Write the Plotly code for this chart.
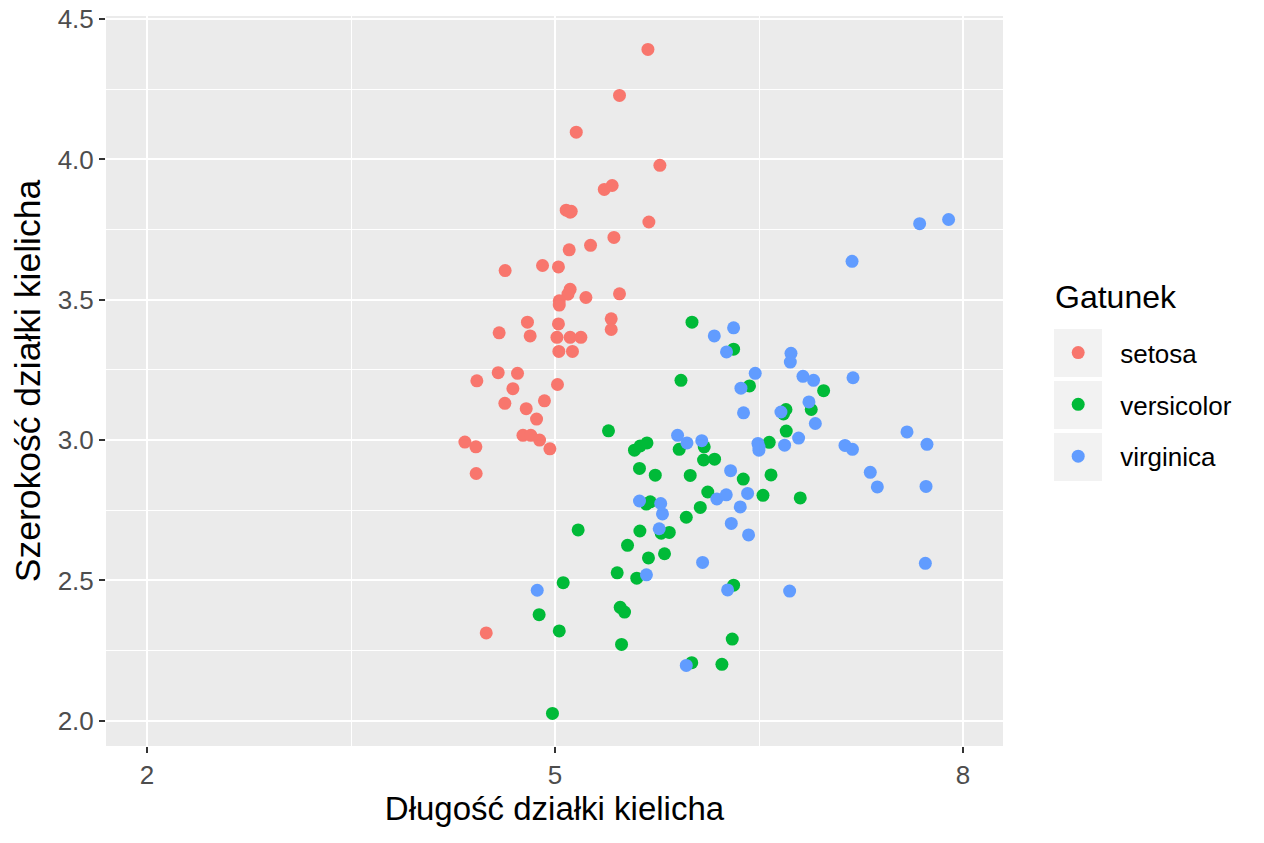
import plotly.graph_objects as go

# dane (punkty z jitterem)
setosa_x = [5.683, 5.474, 5.156, 5.771, 5.362, 5.420, 5.082, 5.111, 5.690, 5.433,
            5.261, 5.104, 4.908, 5.025, 4.633, 5.111, 5.095, 5.227, 5.474, 5.031,
            5.031, 4.797, 5.025, 5.413, 5.413, 4.589, 4.817, 5.014, 5.111, 5.190,
            5.028, 5.128, 4.582, 4.724, 4.425, 5.018, 4.690, 4.631, 4.922, 4.788,
            4.864, 4.764, 4.822, 4.886, 4.337, 4.418, 4.962, 4.420, 4.494, 5.119]
setosa_y = [4.392, 4.228, 4.097, 3.979, 3.893, 3.907, 3.819, 3.812, 3.777, 3.722,
            3.694, 3.678, 3.622, 3.617, 3.604, 3.537, 3.520, 3.508, 3.521, 3.496,
            3.481, 3.420, 3.414, 3.432, 3.394, 3.382, 3.371, 3.366, 3.366, 3.366,
            3.316, 3.316, 3.240, 3.238, 3.211, 3.198, 3.183, 3.131, 3.140, 3.112,
            3.075, 3.017, 3.017, 3.000, 2.993, 2.976, 2.969, 2.881, 2.313, 3.815]

versicolor_x = [6.007, 6.313, 5.926, 6.430, 6.975, 6.884, 6.698, 6.680, 6.700, 6.575,
                5.393, 5.584, 5.626, 5.676, 5.913, 6.097, 6.092, 6.173, 5.621, 5.737,
                5.994, 6.384, 6.588, 6.123, 6.529, 6.803, 5.700, 5.671, 6.068, 5.965,
                5.170, 5.624, 5.781, 5.840, 5.533, 5.687, 5.805, 5.457, 5.601, 5.060,
                6.313, 4.883, 5.479, 5.511, 5.031, 6.303, 5.489, 6.005, 6.227, 4.981]
versicolor_y = [3.420, 3.324, 3.213, 3.193, 3.176, 3.109, 3.109, 3.093, 3.032, 2.992,
                3.033, 2.964, 2.979, 2.990, 2.967, 2.976, 2.929, 2.932, 2.899, 2.875,
                2.874, 2.861, 2.876, 2.815, 2.803, 2.794, 2.780, 2.772, 2.760, 2.725,
                2.680, 2.676, 2.668, 2.671, 2.625, 2.580, 2.595, 2.527, 2.508, 2.492,
                2.483, 2.378, 2.404, 2.387, 2.320, 2.291, 2.272, 2.207, 2.201, 2.026]

virginica_x = [7.681, 7.894, 7.184, 6.171, 6.313, 6.261, 6.735, 6.730, 6.472, 6.367,
               6.823, 6.901, 7.191, 6.386, 6.867, 6.661, 6.914, 6.791, 6.688, 6.492,
               6.499, 7.132, 7.187, 5.901, 5.970, 6.079, 6.291, 6.190, 6.259, 6.416,
               7.588, 7.735, 7.318, 7.370, 7.728, 7.723, 5.621, 5.777, 5.790, 5.766,
               5.672, 6.362, 6.296, 6.423, 6.085, 6.269, 6.725, 5.965, 4.869, 6.500]
virginica_y = [3.771, 3.786, 3.637, 3.371, 3.400, 3.314, 3.309, 3.278, 3.238, 3.185,
               3.227, 3.213, 3.222, 3.097, 3.136, 3.100, 3.059, 3.007, 2.982, 2.988,
               2.964, 2.981, 2.967, 3.017, 2.990, 2.998, 2.891, 2.790, 2.805, 2.810,
               3.029, 2.985, 2.885, 2.833, 2.835, 2.561, 2.783, 2.774, 2.737, 2.684,
               2.520, 2.762, 2.703, 2.662, 2.564, 2.466, 2.462, 2.197, 2.465, 2.975]

species = ["setosa", "versicolor", "virginica"]
colors = ["#F8766D", "#00BA38", "#619CFF"]
xs = [setosa_x, versicolor_x, virginica_x]
ys = [setosa_y, versicolor_y, virginica_y]

FONT = "Liberation Sans, Arial, sans-serif"

fig = go.Figure()
for name, col, x, y in zip(species, colors, xs, ys):
    fig.add_trace(go.Scatter(
        x=x, y=y, mode="markers", name=name, legendgroup=name,
        marker=dict(color=col, size=13, line=dict(width=0)),
    ))

# szare tła kluczy legendy (jak w ggplot2)
for y0, y1 in [(0.5055, 0.5712), (0.4342, 0.5000), (0.3630, 0.4288)]:
    fig.add_shape(type="rect", xref="paper", yref="paper",
                  x0=1.0569, x1=1.1104, y0=y0, y1=y1,
                  fillcolor="#F2F2F2", line=dict(width=0), layer="below")

# tytuł legendy osobno, żeby odstęp był jak w ggplot2
fig.add_annotation(text="Gatunek", xref="paper", yref="paper",
                   x=1.0557, y=0.615, xanchor="left", yanchor="middle",
                   showarrow=False, font=dict(size=32, color="black", family=FONT))

# strona ma 8px marginesu body, stąd mniejszy rozmiar i marginesy l/t
fig.update_layout(
    width=1256, height=835,
    margin=dict(l=98, r=261, t=8, b=97),
    paper_bgcolor="white", plot_bgcolor="#EBEBEB",
    font=dict(family=FONT, color="black"),
    showlegend=True,
    legend=dict(
        font=dict(size=26, color="black"),
        x=1.037, xanchor="left", y=0.571, yanchor="top",
        bgcolor="rgba(0,0,0,0)", tracegroupgap=15, itemwidth=74,
        traceorder="grouped",
    ),
)

fig.update_xaxes(
    range=[1.698, 8.294], tickmode="linear", tick0=2, dtick=3, automargin=False,
    showgrid=True, gridcolor="white", gridwidth=2.4, zeroline=False,
    minor=dict(tick0=2, dtick=1.5, showgrid=True, gridcolor="white", gridwidth=1.2),
    ticks="outside", ticklen=6, tickwidth=2, tickcolor="#333333",
    tickfont=dict(size=26, color="#4D4D4D", family=FONT),
    title=dict(text="Długość działki kielicha", font=dict(size=33, color="black"), standoff=7),
    showline=False,
)
fig.update_yaxes(
    range=[1.91, 4.511], tickmode="linear", tick0=2, dtick=0.5, tickformat=".1f",
    automargin=False, ticklabeloverflow="allow",
    showgrid=True, gridcolor="white", gridwidth=2.4, zeroline=False,
    minor=dict(tick0=2, dtick=0.25, showgrid=True, gridcolor="white", gridwidth=1.2),
    ticks="outside", ticklen=6, tickwidth=2, tickcolor="#333333",
    tickfont=dict(size=26, color="#4D4D4D", family=FONT),
    title=dict(text="Szerokość działki kielicha", font=dict(size=35.5, color="black"), standoff=9),
    showline=False,
)

fig.write_html("out.html")
